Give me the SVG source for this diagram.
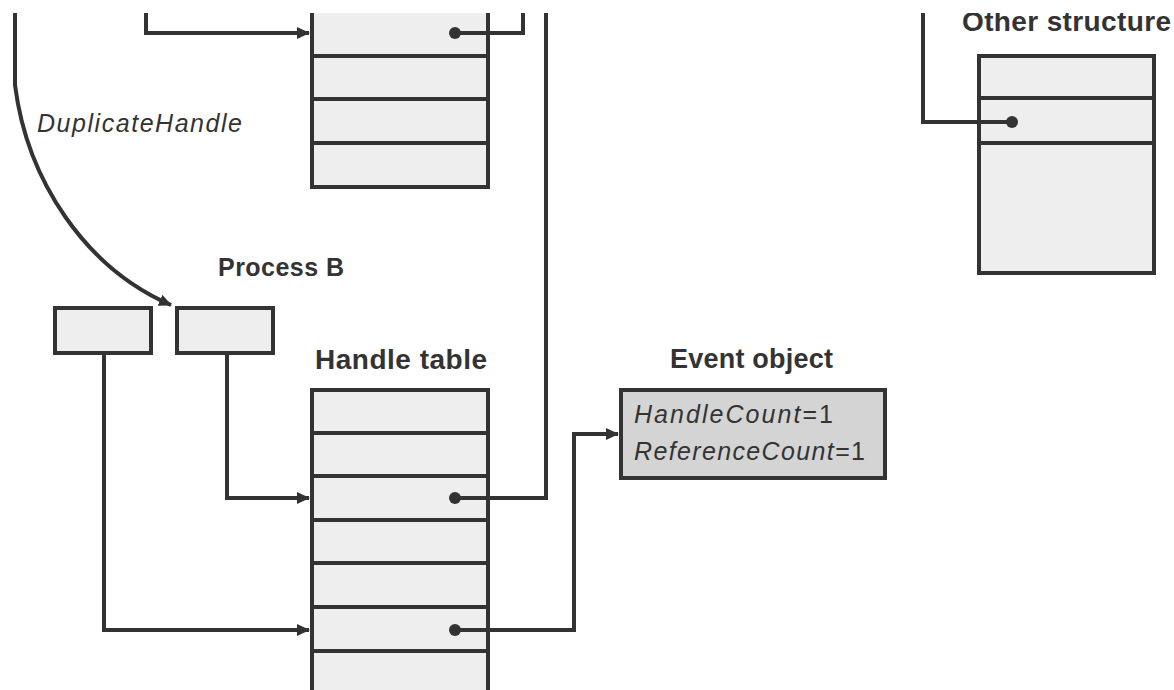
<svg xmlns="http://www.w3.org/2000/svg" width="1174" height="690" viewBox="0 0 1174 690">
<style>
.tbl{fill:#eeeeee;stroke:#333;stroke-width:4}
.ev{fill:#d4d4d4;stroke:#333;stroke-width:4}
.sep{stroke:#333;stroke-width:4}
.ln{fill:none;stroke:#333;stroke-width:4}
.dot{fill:#333}
.lbl{font-family:"Liberation Sans",Arial,sans-serif;font-weight:bold;fill:#333}
.it{font-family:"Liberation Sans",Arial,sans-serif;font-style:italic;font-size:25px;fill:#333}
</style>
<defs>
<marker id="ah" markerWidth="14" markerHeight="14" refX="12" refY="7" orient="auto" markerUnits="userSpaceOnUse">
<path d="M0,1 L13,7 L0,13 z" fill="#333"/>
</marker>
<clipPath id="clip"><rect x="0" y="13" width="1174" height="677"/></clipPath>
</defs>
<rect width="1174" height="690" fill="#fff"/>
<g clip-path="url(#clip)">
<g id="top-table">
<path class="tbl" d="M312,10 V187 H488 V10"/>
<line class="sep" x1="312" y1="56" x2="488" y2="56"/>
<line class="sep" x1="312" y1="99" x2="488" y2="99"/>
<line class="sep" x1="312" y1="143" x2="488" y2="143"/>
</g>
<text class="it" x="37" y="132" textLength="205">DuplicateHandle</text>
<g id="process-b">
<text class="lbl" x="218" y="276" font-size="25" textLength="126">Process B</text>
<rect class="tbl" x="55" y="308" width="96" height="45"/>
<rect class="tbl" x="177" y="308" width="96" height="45"/>
</g>
<g id="handle-table">
<text class="lbl" x="315" y="369" font-size="28" textLength="172">Handle table</text>
<path class="tbl" d="M312,694 V390 H488 V694"/>
<line class="sep" x1="312" y1="433" x2="488" y2="433"/>
<line class="sep" x1="312" y1="476" x2="488" y2="476"/>
<line class="sep" x1="312" y1="520" x2="488" y2="520"/>
<line class="sep" x1="312" y1="563" x2="488" y2="563"/>
<line class="sep" x1="312" y1="607" x2="488" y2="607"/>
<line class="sep" x1="312" y1="651" x2="488" y2="651"/>
</g>
<g id="event-object">
<text class="lbl" x="670" y="368" font-size="27" textLength="163">Event object</text>
<rect class="ev" x="621" y="390" width="264" height="88"/>
<text class="it" x="634" y="423" textLength="199">HandleCount<tspan font-style="normal">=1</tspan></text>
<text class="it" x="634" y="460" textLength="231">ReferenceCount<tspan font-style="normal">=1</tspan></text>
</g>
<g id="other-structure">
<text class="lbl" x="962" y="31" font-size="28" textLength="209">Other structure</text>
<rect class="tbl" x="979" y="56" width="175" height="217"/>
<line class="sep" x1="979" y1="98" x2="1154" y2="98"/>
<line class="sep" x1="979" y1="143" x2="1154" y2="143"/>
</g>
<g id="connectors">
<path class="ln" d="M146,10 V33 H309" marker-end="url(#ah)"/>
<path class="ln" d="M455,33 H523 V10"/>
<path class="ln" d="M546,10 V498 H455"/>
<path class="ln" d="M15,10 V85 C27,180 85,268 171,305" marker-end="url(#ah)"/>
<path class="ln" d="M104,353 V630 H309" marker-end="url(#ah)"/>
<path class="ln" d="M227,353 V498 H309" marker-end="url(#ah)"/>
<path class="ln" d="M455,630 H574 V434 H618" marker-end="url(#ah)"/>
<path class="ln" d="M923,10 V122 H1012"/>
<circle class="dot" cx="455" cy="33" r="6"/>
<circle class="dot" cx="455" cy="498" r="6"/>
<circle class="dot" cx="455" cy="630" r="6"/>
<circle class="dot" cx="1012" cy="122" r="6"/>
</g>
</g>
</svg>
